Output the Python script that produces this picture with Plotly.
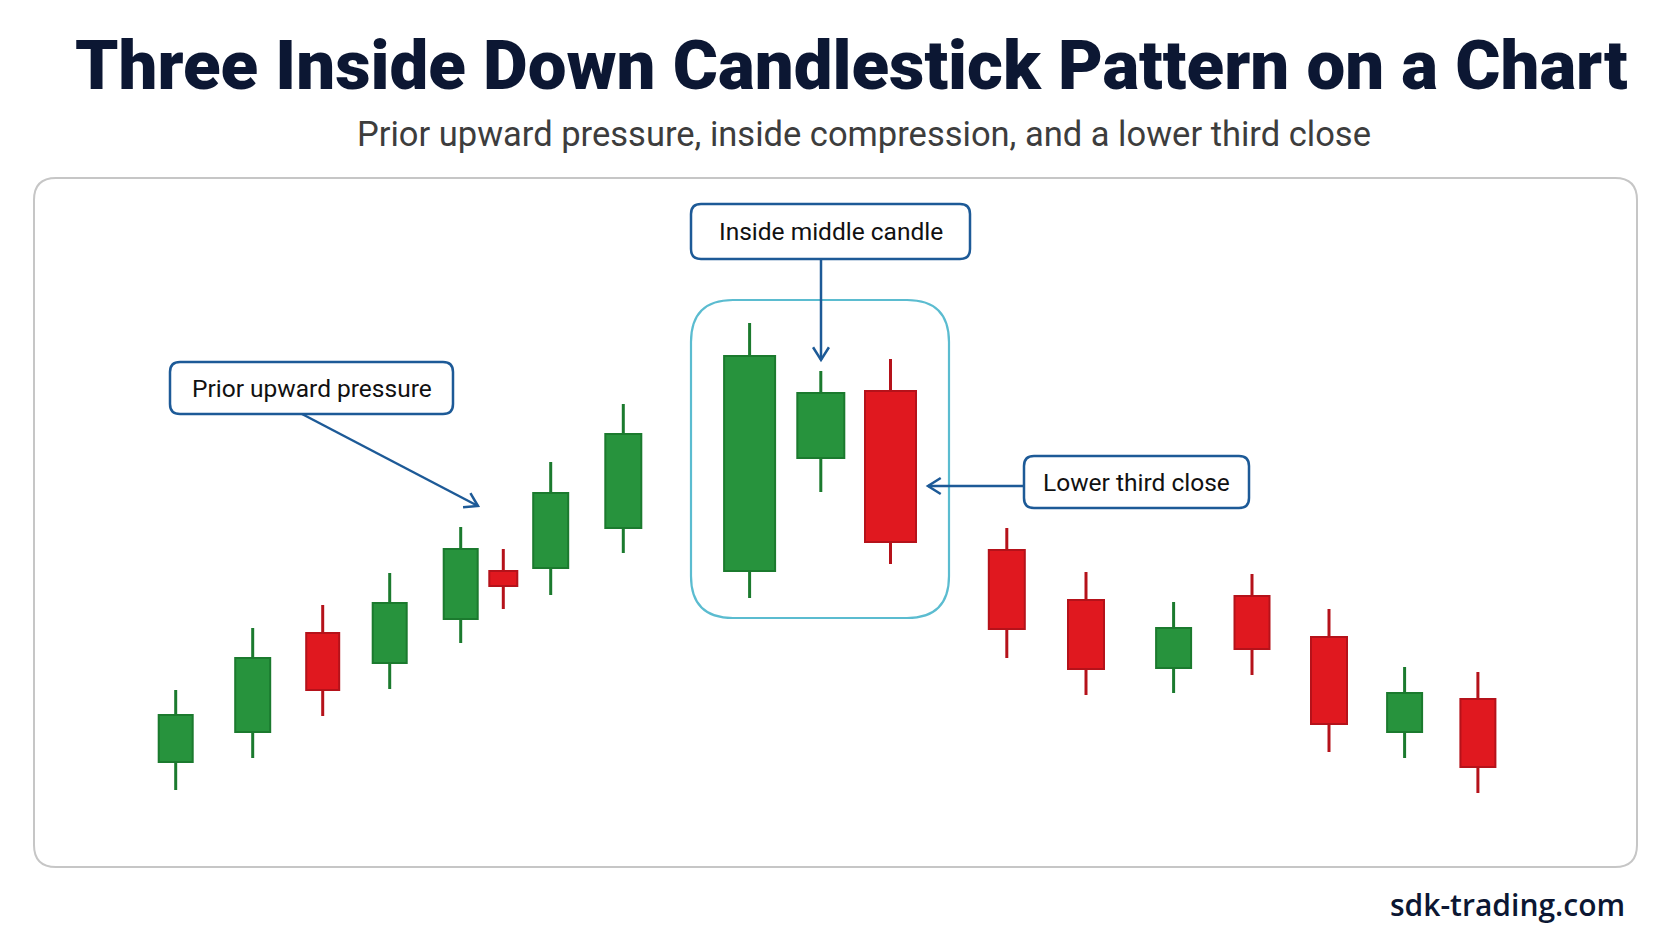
import math
import plotly.graph_objects as go

W, H = 1672, 941

# ---------------- data ----------------
positions = [17.57, 25.27, 32.27, 38.97, 46.07, 50.33, 55.07, 62.33,
             74.96, 82.08, 89.05,
             100.68, 108.6, 117.36, 125.2, 132.9, 140.46, 147.79]
opens  = [17.9, 20.9, 30.8, 27.8, 32.2, 37.0, 37.3, 41.3, 37.0, 48.3, 55.0, 39.1, 34.1, 27.3, 34.5, 30.4, 20.9, 24.2]
highs  = [25.1, 31.3, 33.6, 36.8, 41.4, 39.2, 47.9, 53.7, 61.8, 57.0, 58.2, 41.3, 36.9, 33.9, 36.7, 33.2, 27.4, 26.9]
lows   = [15.1, 18.3, 22.5, 25.2, 29.8, 33.2, 34.6, 38.8, 34.3, 44.9, 37.7, 28.3, 24.6, 24.8, 26.6, 18.9, 18.3, 14.8]
closes = [22.6, 28.3, 25.1, 33.8, 39.2, 35.5, 44.8, 50.7, 58.5, 54.8, 39.9, 31.2, 27.2, 31.3, 29.2, 21.7, 24.8, 17.4]

title_text = "Three Inside Down Candlestick Pattern on a Chart"
subtitle_text = "Prior upward pressure, inside compression, and a lower third close"
label_texts = ["Prior upward pressure", "Inside middle candle", "Lower third close"]
footer_text = "sdk-trading.com"

# ---------------- style ----------------
body_widths = [3.4, 3.5, 3.3, 3.4, 3.4, 2.8, 3.5, 3.6, 5.1, 4.7, 5.1, 3.6, 3.6, 3.5, 3.5, 3.6, 3.5, 3.5]
GREEN, GREEN_EDGE = "#27933d", "#1b7a2e"
RED, RED_EDGE = "#e0181f", "#b5121a"
NAVY = "#0c1733"
BLUE = "#1d5a97"
CYAN = "#5bbcd0"
FONT = "Roboto, Liberation Sans, sans-serif"

up = [c >= o for o, c in zip(opens, closes)]

fig = go.Figure()

# wicks (upper and lower segments so they do not cross the body)
for is_up, col in [(True, GREEN_EDGE), (False, RED_EDGE)]:
    xs, ys = [], []
    for x, o, h, l, c, u in zip(positions, opens, highs, lows, closes, up):
        if u != is_up:
            continue
        top, bot = max(o, c), min(o, c)
        xs += [x, x, None, x, x, None]
        ys += [h, top, None, bot, l, None]
    fig.add_trace(go.Scatter(x=xs, y=ys, mode="lines",
                             line=dict(color=col, width=3),
                             hoverinfo="skip", showlegend=False))

# bodies
fig.add_trace(go.Bar(
    x=positions,
    base=[min(o, c) for o, c in zip(opens, closes)],
    y=[abs(c - o) for o, c in zip(opens, closes)],
    width=body_widths,
    marker=dict(color=[GREEN if u else RED for u in up],
                line=dict(color=[GREEN_EDGE if u else RED_EDGE for u in up], width=2)),
    showlegend=False, hoverinfo="skip"))


def px(x):
    return x / W


def py(y):
    return 1 - y / H


def rrect(x0, y0, x1, y1, r):
    X = lambda v: f"{px(v):.6f}"
    Y = lambda v: f"{py(v):.6f}"
    return (f"M {X(x0 + r)},{Y(y0)} L {X(x1 - r)},{Y(y0)} "
            f"Q {X(x1)},{Y(y0)} {X(x1)},{Y(y0 + r)} L {X(x1)},{Y(y1 - r)} "
            f"Q {X(x1)},{Y(y1)} {X(x1 - r)},{Y(y1)} L {X(x0 + r)},{Y(y1)} "
            f"Q {X(x0)},{Y(y1)} {X(x0)},{Y(y1 - r)} L {X(x0)},{Y(y0 + r)} "
            f"Q {X(x0)},{Y(y0)} {X(x0 + r)},{Y(y0)} Z")


shapes = []
# panel
shapes.append(dict(type="path", xref="paper", yref="paper",
                   path=rrect(34, 178, 1637, 867, 22),
                   line=dict(color="#c6c6c6", width=2), fillcolor="white", layer="below"))
# highlight box around the three-candle pattern
shapes.append(dict(type="path", xref="paper", yref="paper",
                   path=rrect(691, 300, 949, 618, 42),
                   line=dict(color=CYAN, width=2.2), layer="below"))

# label boxes: (x0, y0, x1, y1)
boxes = [(170, 362, 453, 414), (691, 204, 970, 259), (1024, 456, 1249, 508)]
for (x0, y0, x1, y1) in boxes:
    shapes.append(dict(type="path", xref="paper", yref="paper",
                       path=rrect(x0, y0, x1, y1, 10),
                       line=dict(color=BLUE, width=2.5), fillcolor="white"))

# callout connectors: tail -> head
arrows = [((302, 414), (478, 506)), ((821, 259), (821, 360)), ((1024, 486), (928, 486))]
for (tx, ty), (hx, hy) in arrows:
    shapes.append(dict(type="line", xref="paper", yref="paper",
                       x0=px(tx), y0=py(ty), x1=px(hx), y1=py(hy),
                       line=dict(color=BLUE, width=2.5)))
    ang = math.atan2(hy - ty, hx - tx)
    L = 15
    pts = []
    for s in (+1, -1):
        a = ang + math.pi + s * math.radians(32)
        pts.append((hx + L * math.cos(a), hy + L * math.sin(a)))
    path = (f"M {px(pts[0][0]):.6f},{py(pts[0][1]):.6f} L {px(hx):.6f},{py(hy):.6f} "
            f"L {px(pts[1][0]):.6f},{py(pts[1][1]):.6f}")
    shapes.append(dict(type="path", xref="paper", yref="paper", path=path,
                       line=dict(color=BLUE, width=2.5)))

annotations = []
annotations.append(dict(xref="paper", yref="paper", x=px(851), y=py(66), text=title_text,
                        showarrow=False, xanchor="center", yanchor="middle",
                        font=dict(family=FONT, size=69, color=NAVY, weight=900)))
annotations.append(dict(xref="paper", yref="paper", x=px(864), y=py(134), text=subtitle_text,
                        showarrow=False, xanchor="center", yanchor="middle",
                        font=dict(family=FONT, size=34.5, color="#3d3d3d")))
for (x0, y0, x1, y1), t in zip(boxes, label_texts):
    annotations.append(dict(xref="paper", yref="paper", x=px((x0 + x1) / 2), y=py((y0 + y1) / 2),
                            text=t, showarrow=False, xanchor="center", yanchor="middle",
                            font=dict(family=FONT, size=24.5, color="#111111")))
annotations.append(dict(xref="paper", yref="paper", x=px(1627), y=py(904), text=footer_text,
                        showarrow=False, xanchor="right", yanchor="middle",
                        font=dict(family="Open Sans, Noto Sans, sans-serif", size=30,
                                  color=NAVY, weight=600)))

fig.update_layout(
    width=W, height=H,
    margin=dict(l=0, r=0, t=0, b=0),
    paper_bgcolor="white", plot_bgcolor="rgba(0,0,0,0)",
    xaxis=dict(range=[0, W / 10], visible=False, fixedrange=True),
    yaxis=dict(range=[0, H / 10], visible=False, fixedrange=True),
    barmode="overlay",
    shapes=shapes, annotations=annotations,
    showlegend=False,
)

fig.write_html("out.html")
